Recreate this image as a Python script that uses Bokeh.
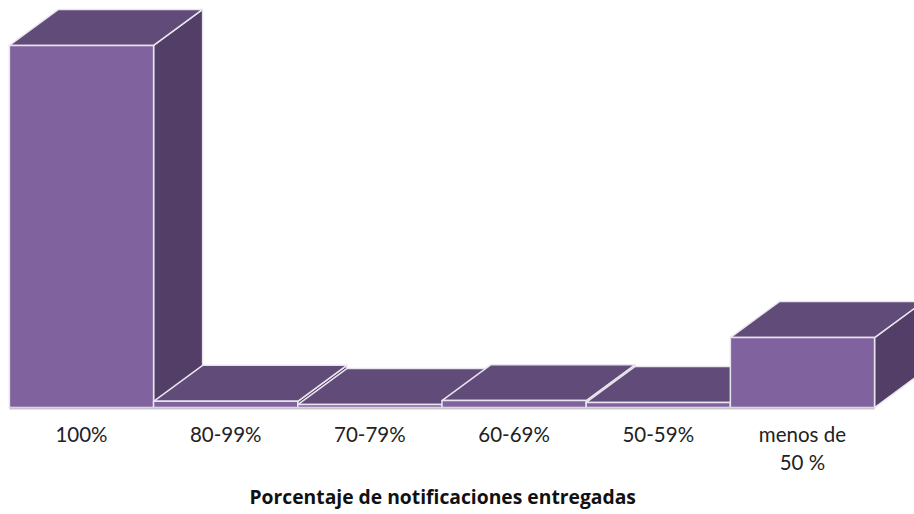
from bokeh.plotting import figure
from bokeh.models import Range1d, FixedTicker, Title
from bokeh.embed import file_html
from bokeh.resources import INLINE

categories = ["100%", "80-99%", "70-79%", "60-69%", "50-59%", "menos de\n50 %"]
values = [100.0, 1.7, 0.8, 1.9, 1.4, 19.3]
axis_title = "Porcentaje de notificaciones entregadas"

FRONT, TOP, SIDE = "#80629f", "#614b78", "#523e66"
EDGE = "#e9e5ee"
DX, DY = 0.34, 9.94   # 3-D depth offset in data units
HALF = 0.5

p = figure(frame_width=914, frame_height=408, output_backend="svg", toolbar_location=None,
           x_range=Range1d(-0.5617, 5.777), y_range=Range1d(-0.276, 112.4),
           min_border_left=0, min_border_right=0, min_border_top=0, min_border_bottom=0,
           background_fill_color="white", border_fill_color="white")
p.outline_line_color = None
p.grid.visible = False
p.yaxis.visible = False

ax = p.xaxis[0]
ax.ticker = FixedTicker(ticks=list(range(len(categories))))
ax.major_label_overrides = {i: c for i, c in enumerate(categories)}
ax.bounds = (-HALF, len(categories) - 1 + HALF)
ax.axis_line_color = "#c9c7cc"
ax.axis_line_width = 2
ax.major_tick_line_color = None
ax.minor_tick_line_color = None
ax.major_label_text_font = "Lato"
ax.major_label_text_font_size = "20.5px"
ax.major_label_text_color = "#222222"
ax.major_label_standoff = 7

p.add_layout(Title(text=axis_title, align="left", offset=249, standoff=6,
                   text_font="Open Sans", text_font_style="bold", text_font_size="19.3px",
                   text_color="#111111"), "below")

for i, v in enumerate(values):
    l, r = i - HALF, i + HALF
    kw = dict(line_color=EDGE, line_width=1.5, line_join="round")
    p.patch([r, r + DX, r + DX, r], [0, DY, v + DY, v], fill_color=SIDE, **kw)
    p.patch([l, l + DX, r + DX, r], [v, v + DY, v + DY, v], fill_color=TOP, **kw)
    p.patch([l, r, r, l], [0, 0, v, v], fill_color=FRONT, **kw)

open("out.html", "w").write(file_html(p, INLINE))
